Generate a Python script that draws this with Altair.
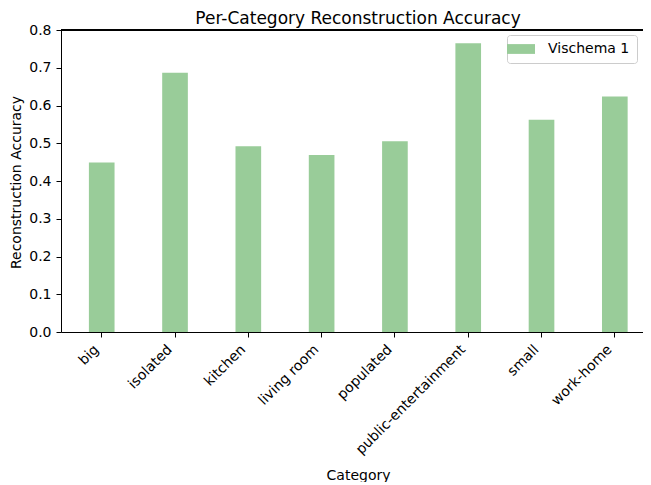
import altair as alt
import pandas as pd

categories = ["big", "isolated", "kitchen", "living room", "populated",
              "public-entertainment", "small", "work-home"]
accuracy = [0.449, 0.687, 0.492, 0.469, 0.505, 0.765, 0.562, 0.624]
series_name = "Vischema 1"
bar_color = "#99cc99"
y_ticks = [0.0, 0.1, 0.2, 0.3, 0.4, 0.5, 0.6, 0.7, 0.8]

df = pd.DataFrame({"Category": categories, "acc": accuracy,
                   "series": [series_name] * len(categories)})

FONT = "DejaVu Sans"

bars = alt.Chart(df).mark_bar(color=bar_color).encode(
    x=alt.X("Category:N", sort=categories,
            scale=alt.Scale(paddingInner=0.65, paddingOuter=0.295, align=0.645),
            axis=alt.Axis(title="Category", labelAngle=315, labelAlign="right",
                          labelBaseline="bottom", labelPadding=15, tickSize=5,
                          labelFontSize=14, titleFontSize=14, titleFontWeight="normal",
                          titleX=297, titleY=143, titleBaseline="middle",
                          titleAlign="center", grid=False)),
    y=alt.Y("acc:Q", scale=alt.Scale(domain=[0, 0.8], nice=False, zero=True),
            axis=alt.Axis(title="Reconstruction Accuracy", values=y_ticks, format=".1f",
                          tickCount=9, labelOverlap=False,
                          tickSize=5, labelPadding=5, labelFontSize=14,
                          titleFontSize=14, titleFontWeight="normal",
                          titleX=-45, titleY=152, titleAngle=270,
                          titleBaseline="middle", titleAlign="center", grid=False)),
    color=alt.Color("series:N",
                    scale=alt.Scale(domain=[series_name], range=[bar_color]),
                    legend=alt.Legend(title=None, orient="none", legendX=446, legendY=5,
                                      symbolType="M-2,-0.7L2,-0.7L2,0.7L-2,0.7Z",
                                      symbolSize=196, symbolStrokeWidth=0,
                                      labelFontSize=14, labelFont=FONT, labelColor="#000",
                                      labelOffset=20, padding=7,
                                      strokeColor="#cccccc", fillColor="white",
                                      cornerRadius=3)),
)

top_spine = alt.Chart(df).mark_rule(color="black", strokeWidth=1).encode(
    x=alt.value(0), x2=alt.value(582), y=alt.value(0)
)

chart = alt.layer(bars, top_spine).properties(
    width=582, height=302,
    title=alt.TitleParams("Per-Category Reconstruction Accuracy", fontSize=17,
                          font=FONT, fontWeight="normal", anchor="middle",
                          offset=-5, dx=6, color="#000"),
    autosize=alt.AutoSizeParams(type="none"),
    padding={"left": 53, "top": 22, "right": 0, "bottom": 150},
).configure_view(stroke=None).configure_axis(
    labelFont=FONT, titleFont=FONT, labelColor="#000", titleColor="#000",
    domainColor="#000", tickColor="#000", domainWidth=1, tickWidth=1
)

chart.save("out.html", embed_options={"renderer": "svg", "actions": False})
